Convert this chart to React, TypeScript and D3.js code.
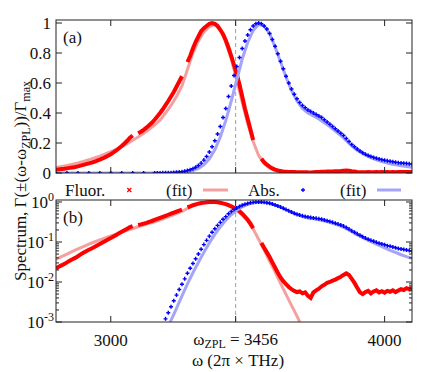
import React from "react";
import * as d3 from "d3";

const W = 443;
const H = 372;
const FONT = "Liberation Serif";

// frequency grids, 2π×THz
const fluorOmega = d3.range(2800, 4101, 10);
const fitOmega = d3.range(2800, 4101, 20);
const absOmega = [2800, 2840, 2880, 2920, 2960, 3000, 3040, 3080, 3120, 3160, ...d3.range(3170, 4101, 10)];

// fluorescence data (null = gap in the measurement)
const fluorData: (number | null)[] = [
  0.022, 0.024, 0.026, 0.028, 0.031, 0.034, 0.037, 0.040, 0.044, 0.049, // 2800
  0.054, 0.059, 0.064, 0.069, 0.075, 0.082, 0.089, 0.097, 0.106, 0.115, // 2900
  0.125, 0.137, 0.150, 0.165, 0.180, 0.197, 0.215, 0.235, 0.250, null, // 3000
  0.265, 0.275, 0.288, 0.302, 0.318, 0.335, 0.355, 0.377, 0.400, 0.425, // 3100
  0.452, 0.480, 0.510, 0.540, 0.575, 0.610, 0.645, null, 0.740, 0.780, // 3200
  0.830, 0.875, 0.910, 0.945, 0.965, 0.980, 0.995, 1.0, 0.995, 0.980, // 3300
  0.955, 0.925, 0.885, 0.835, 0.780, 0.720, 0.660, 0.590, 0.510, 0.430, // 3400
  0.360, 0.290, 0.220, null, null, 0.095, 0.072, 0.055, 0.042, 0.031, // 3500
  0.023, 0.017, 0.013, 0.0105, 0.0088, 0.0075, 0.0066, 0.0060, 0.0056, 0.0058, // 3600
  0.0052, 0.0055, 0.0045, 0.0040, 0.0055, 0.0062, 0.0068, 0.0078, 0.0085, 0.0095, // 3700
  0.0100, 0.0108, 0.0115, 0.0125, 0.0135, 0.0150, 0.0165, 0.0150, 0.0120, 0.0095, // 3800
  0.0072, 0.0055, 0.0050, 0.0056, 0.0060, 0.0052, 0.0058, 0.0062, 0.0055, 0.0059, // 3900
  0.0054, 0.0060, 0.0057, 0.0062, 0.0056, 0.0061, 0.0066, 0.0063, 0.0070, 0.0066, // 4000
  0.0072,
];

const fluorFit = [
  0.037, 0.043, 0.050, 0.058, 0.067, // 2800
  0.077, 0.088, 0.100, 0.113, 0.127, // 2900
  0.142, 0.158, 0.176, 0.196, 0.218, // 3000
  0.240, 0.265, 0.292, 0.320, 0.352, // 3100
  0.400, 0.450, 0.510, 0.580, 0.690, // 3200
  0.800, 0.880, 0.940, 0.975, 0.990, // 3300
  0.955, 0.870, 0.760, 0.620, 0.470, // 3400
  0.330, 0.210, 0.117, 0.063, 0.033, // 3500
  0.018, 0.0093, 0.0049, 0.0026, 0.0014, // 3600
  0.00072, 0.00038, 0.0002, 0.0001, 0.00005, // 3700
  0.00003, 0.00002, 0.00001, 0.00001, 0.00001, // 3800
  0.00001, 0.00001, 0.00001, 0.00001, 0.00001, // 3900
  0.00001, 0.00001, 0.00001, 0.00001, 0.00001, // 4000
  0.00001,
];

const absData = [
  0.00003, 0.00004, 0.00005, 0.00007, 0.0001, 0.00013, 0.00018, 0.00025, 0.00035, 0.0005, // 2800..3160
  0.00055, 0.0007, 0.0009, // 3170..3190
  0.0012, 0.0017, 0.0024, 0.0034, 0.0047, 0.0065, 0.0088, 0.012, 0.0165, 0.022, // 3200
  0.029, 0.038, 0.050, 0.066, 0.086, 0.11, 0.14, 0.175, 0.215, 0.26, // 3300
  0.31, 0.37, 0.43, 0.51, 0.58, 0.65, 0.71, 0.77, 0.83, 0.88, // 3400
  0.92, 0.955, 0.98, 0.995, 1.0, 0.995, 0.98, 0.96, 0.93, 0.89, // 3500
  0.845, 0.795, 0.745, 0.695, 0.645, 0.60, 0.56, 0.525, 0.495, 0.47, // 3600
  0.45, 0.435, 0.42, 0.41, 0.40, 0.39, 0.38, 0.37, 0.355, 0.34, // 3700
  0.325, 0.31, 0.295, 0.28, 0.265, 0.25, 0.23, 0.21, 0.19, 0.175, // 3800
  0.16, 0.147, 0.135, 0.125, 0.117, 0.11, 0.104, 0.098, 0.093, 0.089, // 3900
  0.085, 0.081, 0.078, 0.075, 0.072, 0.069, 0.067, 0.065, 0.063, 0.061, // 4000
  0.059,
];

const absFit = [
  0.00001, 0.00001, 0.00001, 0.00001, 0.00001, // 2800
  0.00001, 0.00001, 0.00001, 0.00002, 0.00002, // 2900
  0.00002, 0.00002, 0.00003, 0.00003, 0.00003, // 3000
  0.00003, 0.00004, 0.00007, 0.00013, 0.00028, // 3100
  0.0006, 0.0011, 0.0022, 0.0045, 0.009, // 3200
  0.017, 0.031, 0.055, 0.095, 0.155, // 3300
  0.24, 0.35, 0.48, 0.62, 0.76, // 3400
  0.87, 0.95, 0.99, 0.98, 0.93, // 3500
  0.84, 0.74, 0.64, 0.55, 0.48, // 3600
  0.43, 0.40, 0.38, 0.36, 0.335, // 3700
  0.31, 0.28, 0.25, 0.215, 0.18, // 3800
  0.15, 0.128, 0.11, 0.095, 0.082, // 3900
  0.071, 0.062, 0.055, 0.048, 0.043, // 4000
  0.039,
];

const omegaZPL = 3456;
const xTicks = [3000, omegaZPL, 4000];
const linTicks = [0, 0.2, 0.4, 0.6, 0.8, 1];
const linLabels = ["0", "0.2", "0.4", "0.6", "0.8", "1"];
const logTicks = [1e-3, 1e-2, 1e-1, 1];
const logExp = ["-3", "-2", "-1", "0"];

const RED = "#ff0000";
const RED_FIT = "#f5a0a0";
const BLUE = "#0000ff";
const BLUE_FIT = "#a4a4f8";

const x = d3.scaleLinear().domain([2800, 4100]).range([56, 412]);
const yA = d3.scaleLinear().domain([0, 1.02]).range([173, 20]);
const yB = d3.scaleLog().domain([1e-3, 1.122]).range([322, 200]);

type Pt = [number, number | null];
const zip = (xs: number[], ys: (number | null)[]): Pt[] => xs.map((w, i) => [w, ys[i] ?? null]);

const T = (props: any) => <text style={{ fontFamily: FONT }} fontSize={17} fill="#111" {...props} />;

function Panel({ y, log, id, label }: { y: any; log: boolean; id: string; label: string }) {
  const [y0, y1] = y.range();
  const [x0, x1] = x.range();
  const line = d3
    .line<Pt>()
    .defined((d) => d[1] != null && (!log || (d[1] as number) > 0))
    .x((d) => x(d[0]))
    .y((d) => y(d[1] as number));

  const minor: number[] = [];
  if (log) {
    [1e-3, 1e-2, 1e-1].forEach((p) => {
      for (let k = 2; k <= 9; k++) minor.push(p * k);
    });
  }
  const majors = log ? logTicks : linTicks;

  return (
    <g>
      <defs>
        <clipPath id={id}>
          <rect x={x0} y={y1} width={x1 - x0} height={y0 - y1} />
        </clipPath>
      </defs>
      <line x1={x(omegaZPL)} x2={x(omegaZPL)} y1={y0} y2={y1} stroke="#a0a0a0" strokeWidth={1} strokeDasharray="4,3" />
      <g clipPath={`url(#${id})`}>
        <path d={line(zip(fitOmega, fluorFit)) || ""} fill="none" stroke={RED_FIT} strokeWidth={3} />
        <path d={line(zip(fluorOmega, fluorData)) || ""} fill="none" stroke={RED} strokeWidth={4} />
        <path d={line(zip(fitOmega, absFit)) || ""} fill="none" stroke={BLUE_FIT} strokeWidth={3} />
        {absOmega.map((w, i) => {
          const v = absData[i];
          if (log && v < 1e-3) return null;
          const cx = x(w);
          const cy = y(v);
          return (
            <path key={i} d={`M${cx - 2},${cy}H${cx + 2}M${cx},${cy - 2}V${cy + 2}`} stroke={BLUE} strokeWidth={1.4} />
          );
        })}
      </g>
      {/* ticks */}
      {majors.map((t) => (
        <g key={"m" + t}>
          <line x1={x0} x2={x0 + 6} y1={y(t)} y2={y(t)} stroke="#222" />
          <line x1={x1} x2={x1 - 6} y1={y(t)} y2={y(t)} stroke="#222" />
        </g>
      ))}
      {minor.map((t) => (
        <g key={"n" + t}>
          <line x1={x0} x2={x0 + 3} y1={y(t)} y2={y(t)} stroke="#222" />
          <line x1={x1} x2={x1 - 3} y1={y(t)} y2={y(t)} stroke="#222" />
        </g>
      ))}
      {xTicks.map((t) => (
        <g key={"x" + t}>
          <line x1={x(t)} x2={x(t)} y1={y0} y2={y0 - 6} stroke="#222" />
          <line x1={x(t)} x2={x(t)} y1={y1} y2={y1 + 6} stroke="#222" />
        </g>
      ))}
      <rect x={x0} y={y1} width={x1 - x0} height={y0 - y1} fill="none" stroke="#222" strokeWidth={1} />
      {/* tick labels */}
      {log
        ? logTicks.map((t, i) => (
            <T key={"l" + t} x={54} y={y(t) + 6} textAnchor="end">
              10<tspan dy={-7} fontSize={12}>{logExp[i]}</tspan>
            </T>
          ))
        : linTicks.map((t, i) => (
            <T key={"l" + t} x={51} y={y(t) + 6} textAnchor="end">
              {linLabels[i]}
            </T>
          ))}
      <T x={63} y={y1 + 23}>{label}</T>
    </g>
  );
}

export default function App() {
  const ly = 190;
  return (
    <svg width={W} height={H} style={{ position: "absolute", left: 0, top: 0, background: "#fff" }}>
      <Panel y={yA} log={false} id="clipA" label="(a)" />
      <Panel y={yB} log={true} id="clipB" label="(b)" />

      {/* legend */}
      <T x={65} y={196}>Fluor.</T>
      <path d={`M${127.3},${ly - 2}L${131.3},${ly + 2}M${127.3},${ly + 2}L${131.3},${ly - 2}`} stroke={RED} strokeWidth={1.3} />
      <T x={166} y={196}>(fit)</T>
      <line x1={203} x2={228} y1={ly} y2={ly} stroke={RED_FIT} strokeWidth={3} />
      <T x={248} y={196}>Abs.</T>
      <path d={`M${301},${ly}H${305}M${303},${ly - 2}V${ly + 2}`} stroke={BLUE} strokeWidth={1.3} />
      <T x={340} y={196}>(fit)</T>
      <line x1={377} x2={401} y1={ly} y2={ly} stroke={BLUE_FIT} strokeWidth={3} />

      {/* x tick labels (bottom panel) */}
      <T x={x(3000)} y={346} textAnchor="middle">3000</T>
      <T x={x(4000)} y={346} textAnchor="middle">4000</T>
      <T x={x(omegaZPL)} y={345} textAnchor="middle">
        ω<tspan dy={3} fontSize={12}>ZPL</tspan>
        <tspan dy={-3}> = {omegaZPL}</tspan>
      </T>
      <T x={238} y={366} textAnchor="middle">ω (2π × THz)</T>

      {/* y label */}
      <T transform="translate(26,181) rotate(-90)" textAnchor="middle">
        Spectrum, Γ(±(ω-ω<tspan dy={4} fontSize={12}>ZPL</tspan>
        <tspan dy={-4}>))/Γ</tspan>
        <tspan dy={4} fontSize={12}>max</tspan>
      </T>
    </svg>
  );
}
